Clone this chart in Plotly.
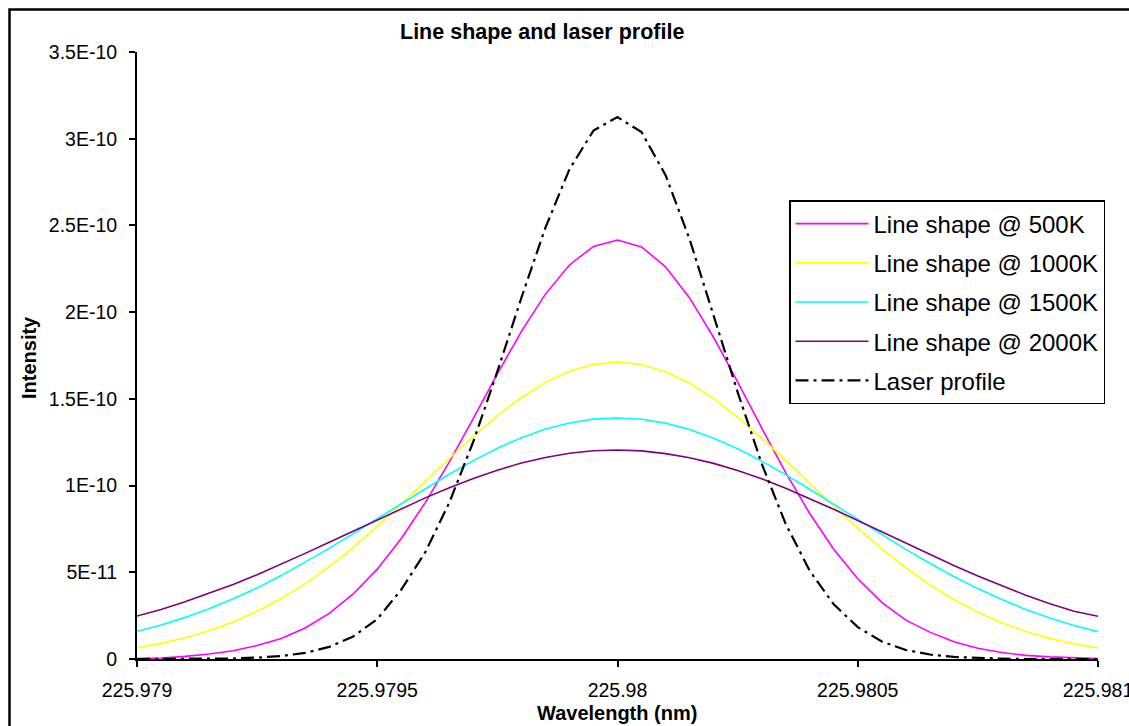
import plotly.graph_objects as go

# Wavelength grid (nm)
wavelength = [
    225.97900, 225.97905, 225.97910, 225.97915, 225.97920, 225.97925, 225.97930,
    225.97935, 225.97940, 225.97945, 225.97950, 225.97955, 225.97960, 225.97965,
    225.97970, 225.97975, 225.97980, 225.97985, 225.97990, 225.97995, 225.98000,
    225.98005, 225.98010, 225.98015, 225.98020, 225.98025, 225.98030, 225.98035,
    225.98040, 225.98045, 225.98050, 225.98055, 225.98060, 225.98065, 225.98070,
    225.98075, 225.98080, 225.98085, 225.98090, 225.98095, 225.98100,
]

# Intensities in units of 1e-12
UNIT = 1e-12
ls_500K = [
    0.2, 0.6, 1.5, 2.9, 4.8, 7.8, 11.8, 17.9, 26.3, 37.5, 51.8, 69.5, 90.2, 113.7,
    138.8, 164.4, 188.9, 210.4, 227.2, 237.9, 241.6,
    237.6, 226.1, 208.2, 185.4, 159.8, 133.2, 107.5, 83.9, 63.3, 46.3, 32.7, 22.4,
    15.5, 10.0, 6.2, 3.7, 2.1, 1.2, 0.6, 0.3,
]
ls_1000K = [
    6.6, 9.0, 12.2, 16.3, 21.4, 27.6, 34.9, 43.5, 53.3, 64.4, 76.5, 89.2, 102.4,
    115.6, 128.3, 140.3, 150.8, 159.5, 165.9, 169.9, 171.2,
    169.8, 165.6, 159.0, 150.1, 139.5, 127.4, 114.5, 101.2, 88.1, 75.4, 63.5, 52.5,
    42.8, 34.3, 27.0, 20.9, 15.9, 11.9, 8.8, 6.4,
]
ls_1500K = [
    16.0, 19.6, 24.0, 29.0, 34.7, 41.0, 48.1, 55.8, 63.8, 72.3, 81.0, 89.8, 98.5,
    106.7, 114.4, 121.5, 127.6, 132.6, 136.1, 138.3, 139.0,
    138.2, 136.0, 132.3, 127.3, 121.2, 114.1, 106.3, 97.9, 89.2, 80.4, 71.7, 63.2,
    55.2, 47.6, 40.6, 34.3, 28.6, 23.6, 19.3, 15.8,
]
ls_2000K = [
    24.8, 28.6, 33.0, 37.8, 43.0, 48.6, 54.6, 60.9, 67.3, 73.8, 80.3, 86.7, 92.9,
    98.7, 104.1, 108.9, 113.0, 116.2, 118.6, 120.1, 120.5,
    120.0, 118.4, 116.0, 112.8, 108.7, 103.9, 98.5, 92.6, 86.3, 79.9, 73.3, 66.7,
    60.2, 53.9, 47.8, 42.1, 36.8, 31.9, 27.5, 24.6,
]
laser = [
    0.0, 0.0, 0.0, 0.1, 0.3, 0.8, 1.7, 3.5, 7.0, 13.0, 23.0, 40.0, 61.6, 90.2,
    125.4, 165.8, 208.3, 248.7, 282.4, 304.7, 312.5,
    303.8, 279.0, 242.1, 198.6, 153.9, 112.7, 77.9, 50.9, 31.5, 18.4, 10.1, 5.2,
    2.6, 1.2, 0.5, 0.2, 0.0, 0.0, 0.0, 0.0,
]

series_names = ["Line shape @ 500K", "Line shape @ 1000K", "Line shape @ 1500K",
                "Line shape @ 2000K", "Laser profile"]
series_values = [ls_500K, ls_1000K, ls_1500K, ls_2000K, laser]
series_colors = ["#FF00FF", "#FFFF00", "#00FFFF", "#800080", "#000000"]

y_tickvals = [0, 5e-11, 1e-10, 1.5e-10, 2e-10, 2.5e-10, 3e-10, 3.5e-10]
y_ticktext = ["0", "5E-11", "1E-10", "1.5E-10", "2E-10", "2.5E-10", "3E-10", "3.5E-10"]
x_tickvals = [225.979, 225.9795, 225.98, 225.9805, 225.981]
x_ticktext = ["225.979", "225.9795", "225.98", "225.9805", "225.981"]

FONT = "Arial, 'Liberation Sans', sans-serif"

fig = go.Figure()
for i, (name, vals, col) in enumerate(zip(series_names, series_values, series_colors)):
    is_laser = name == "Laser profile"
    fig.add_trace(go.Scatter(
        x=wavelength,
        y=[v * UNIT for v in vals],
        mode="lines",
        name=name,
        legendgroup=f"g{i}",
        line=dict(color=col, width=2.2 if is_laser else 1.6,
                  dash="13px,5px,3px,5px" if is_laser else "solid"),
    ))

L, R, T, B = 137, 31, 52, 67
W, H = 1129, 726
pw, ph = W - L - R, H - T - B


def px_x(px):
    return (px - L) / pw


def px_y(py):
    return (H - B - py) / ph


fig.update_layout(
    width=W, height=H,
    margin=dict(l=L, r=R, t=T, b=B, pad=0, autoexpand=False),
    paper_bgcolor="white", plot_bgcolor="white",
    font=dict(family=FONT, color="black", size=19),
    showlegend=True,
    legend=dict(
        x=px_x(789), y=px_y(200), xanchor="left", yanchor="top",
        bgcolor="white", bordercolor="black", borderwidth=1.5,
        font=dict(family=FONT, size=24, color="black"),
        tracegroupgap=5, itemwidth=73,
    ),
    xaxis=dict(
        range=[225.979, 225.981], tickmode="array",
        tickvals=x_tickvals, ticktext=x_ticktext,
        showline=True, linecolor="black", linewidth=2, mirror=False,
        ticks="outside", ticklen=6, tickwidth=1.5, tickcolor="black",
        showgrid=False, zeroline=False, ticklabelstandoff=7,
        ticklabeloverflow="allow", automargin=False,
        tickfont=dict(size=19.5),
    ),
    yaxis=dict(
        range=[0, 3.5e-10], tickmode="array",
        tickvals=y_tickvals, ticktext=y_ticktext,
        showline=True, linecolor="black", linewidth=2, mirror=False,
        ticks="outside", ticklen=6, tickwidth=1.5, tickcolor="black",
        showgrid=False, zeroline=False, ticklabelstandoff=8,
        automargin=False,
        tickfont=dict(size=19.5),
    ),
    annotations=[
        dict(text="<b>Line shape and laser profile</b>", xref="paper", yref="paper",
             x=px_x(542), y=px_y(32), xanchor="center", yanchor="middle",
             showarrow=False, font=dict(family=FONT, size=21.5, color="black")),
        dict(text="<b>Wavelength (nm)</b>", xref="paper", yref="paper",
             x=px_x(617), y=px_y(713), xanchor="center", yanchor="middle",
             showarrow=False, font=dict(family=FONT, size=20, color="black")),
        dict(text="<b>Intensity</b>", xref="paper", yref="paper",
             x=px_x(29), y=px_y(358), xanchor="center", yanchor="middle",
             textangle=-90, showarrow=False,
             font=dict(family=FONT, size=20, color="black")),
    ],
    shapes=[
        dict(type="rect", xref="paper", yref="paper",
             x0=px_x(9.5), x1=px_x(1150), y0=px_y(740), y1=px_y(9.5),
             line=dict(color="black", width=2.5), fillcolor="rgba(0,0,0,0)",
             layer="below"),
    ],
)

fig.write_html("out.html")
